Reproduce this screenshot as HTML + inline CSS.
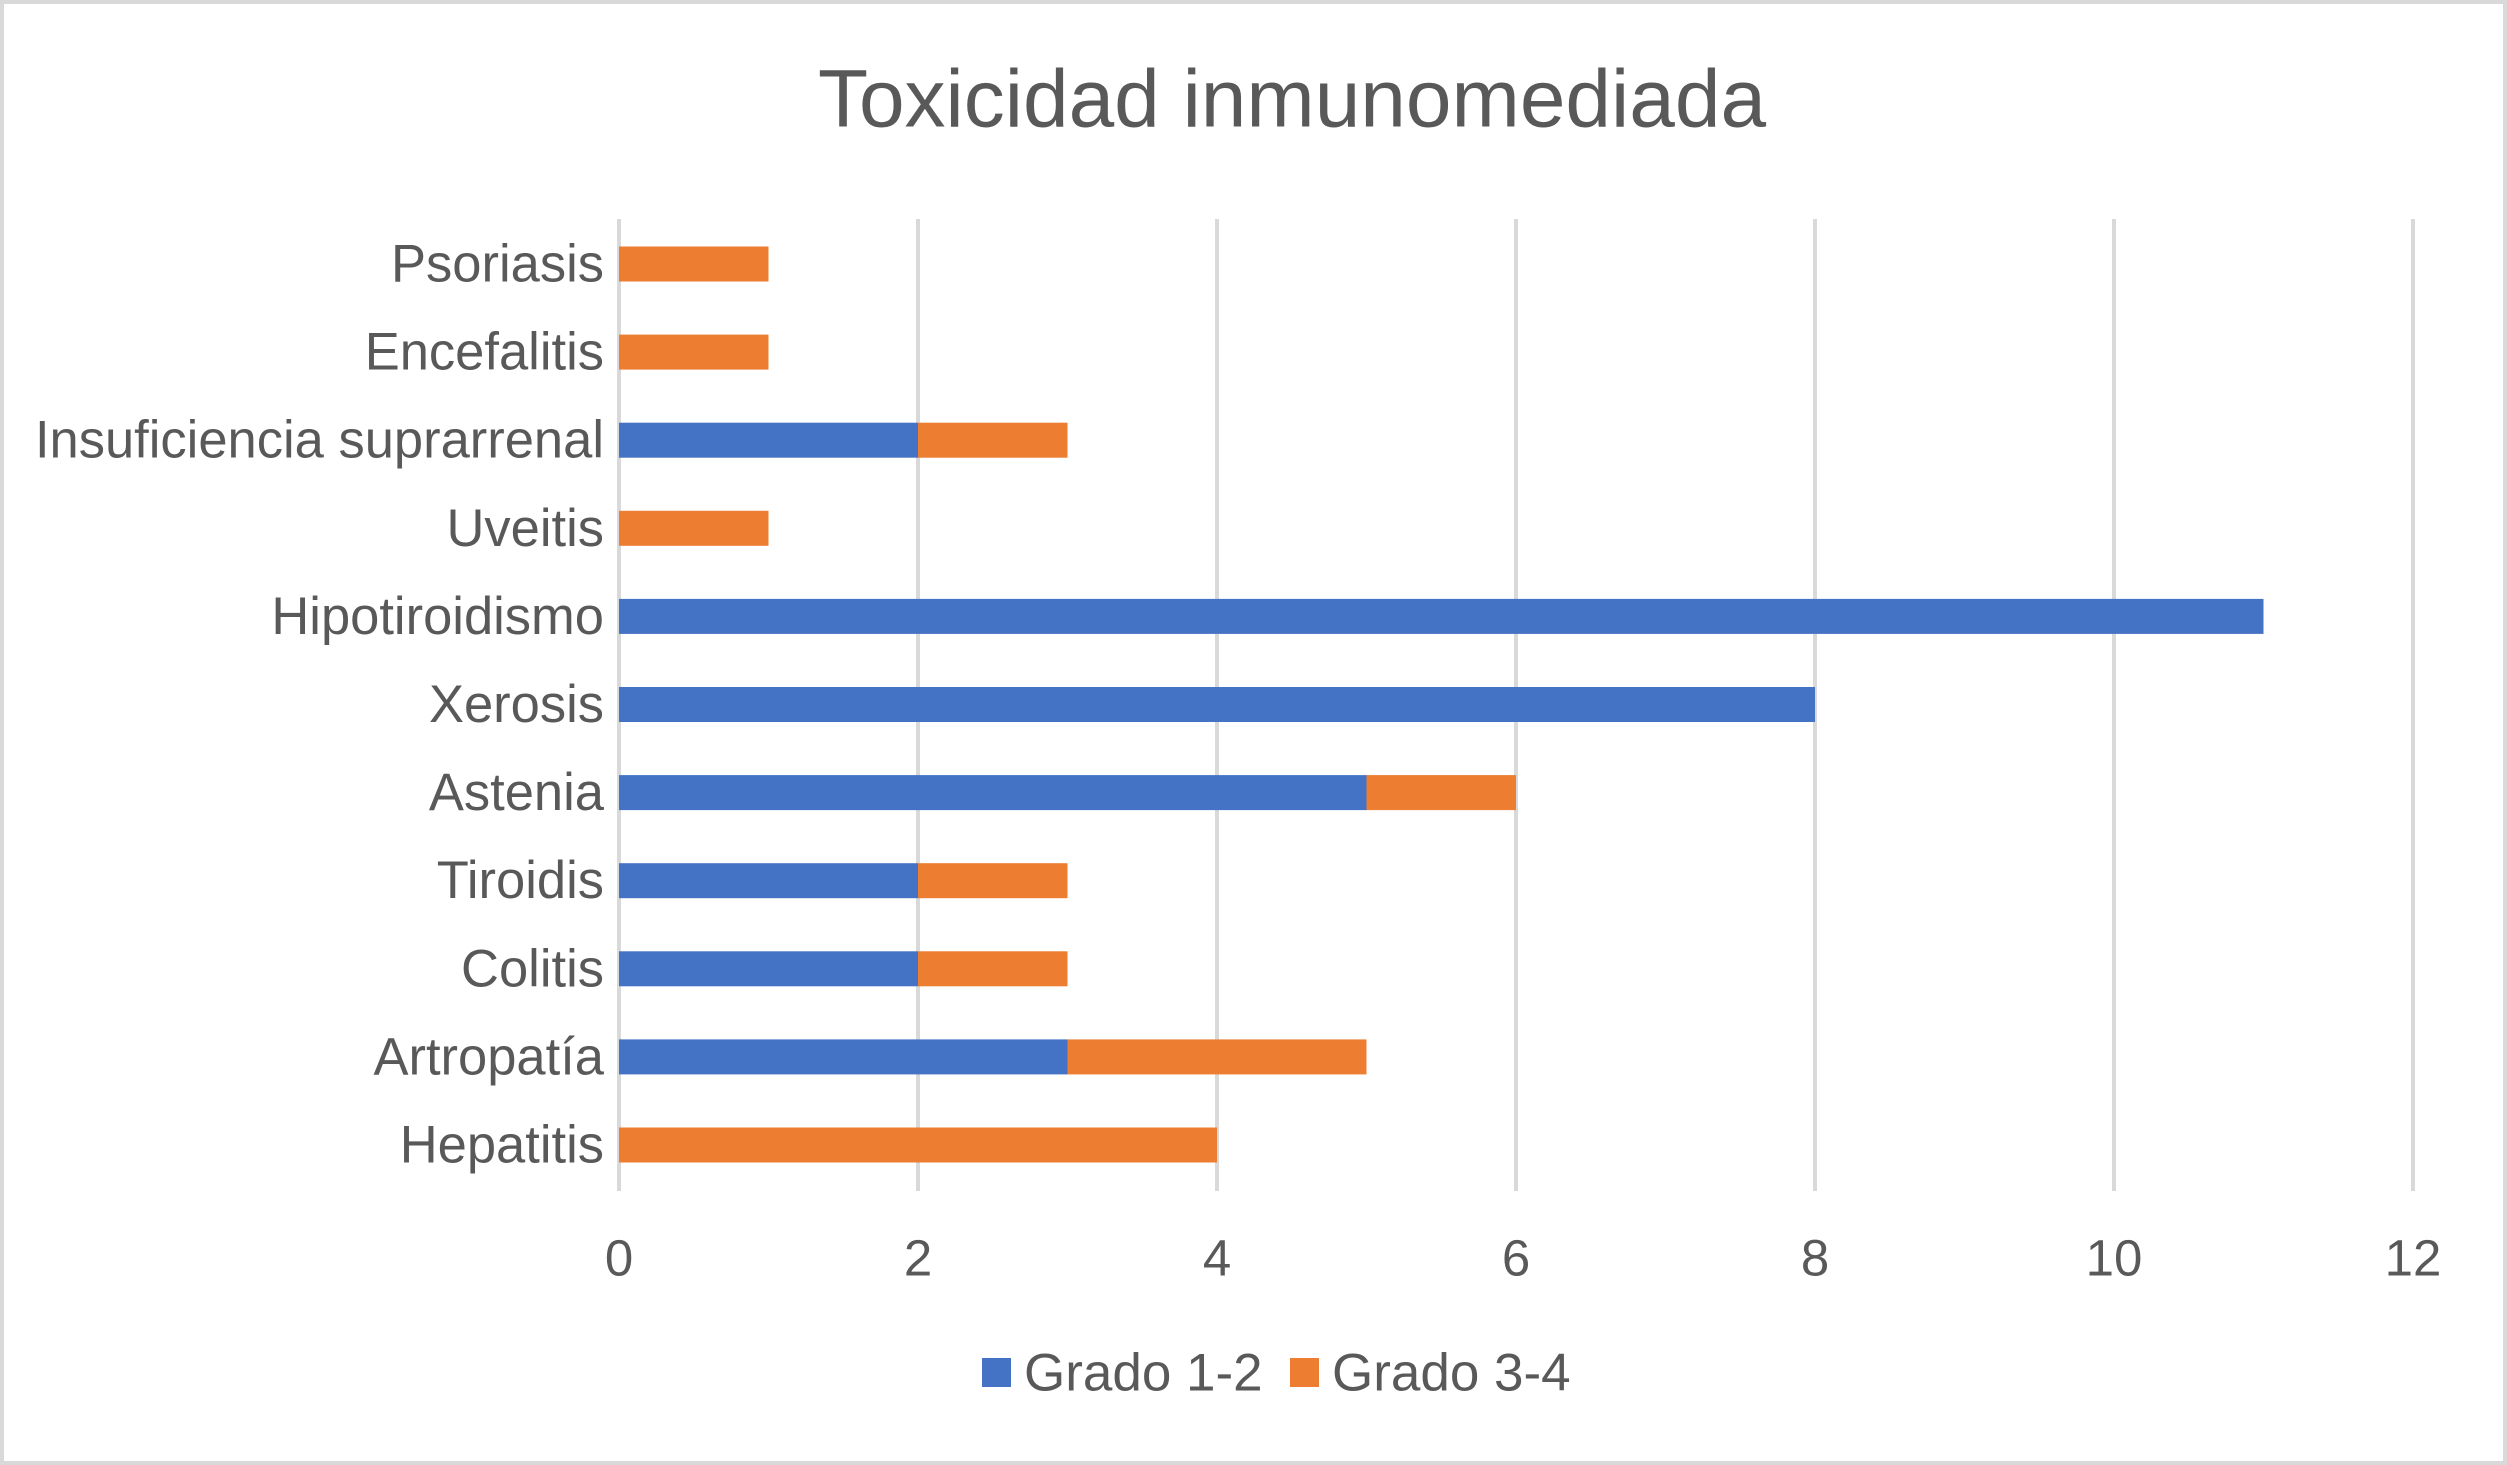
<!DOCTYPE html>
<html><head><meta charset="utf-8"><style>
html,body{margin:0;padding:0;background:#fff;}
svg{display:block;font-family:"Liberation Sans",Arial,sans-serif;}
</style></head><body>
<svg id="chart" width="2507" height="1465" viewBox="0 0 2507 1465" xmlns="http://www.w3.org/2000/svg">
<rect x="2" y="2" width="2503" height="1461" fill="#fff" stroke="#D9D9D9" stroke-width="4"/>
<text x="1292" y="99" font-size="82" fill="#595959" text-anchor="middle" dominant-baseline="central">Toxicidad inmunomediada</text>
<g id="grid"></g><g id="bars"></g><g id="ylabels"></g><g id="xlabels"></g>
<g>
<rect x="982" y="1358" width="29" height="29" fill="#4472C4"/>
<text x="1024" y="1373" font-size="53" fill="#595959" dominant-baseline="central">Grado 1-2</text>
<rect x="1290" y="1358" width="29" height="29" fill="#ED7D31"/>
<text x="1332" y="1373" font-size="53" fill="#595959" dominant-baseline="central">Grado 3-4</text>
</g>
</svg>
<script>
const categories=["Psoriasis","Encefalitis","Insuficiencia suprarrenal","Uveitis","Hipotiroidismo","Xerosis","Astenia","Tiroidis","Colitis","Artropatía","Hepatitis"];
const grado12=[0,0,2,0,11,8,5,2,2,3,0];
const grado34=[1,1,1,1,0,0,1,1,1,2,4];
const xTicks=[0,2,4,6,8,10,12];
const NS="http://www.w3.org/2000/svg";
const x0=619,x1=2413,xMax=12,gTop=219,gBot=1191,yFirst=264,yLast=1145,bh=35;
const xs=v=>x0+(x1-x0)*v/xMax;
const ys=i=>yFirst+(yLast-yFirst)*i/(categories.length-1);
function mk(tag,attrs,parent){const e=document.createElementNS(NS,tag);for(const k in attrs)e.setAttribute(k,attrs[k]);document.getElementById(parent).appendChild(e);return e;}
xTicks.forEach(t=>{
 const l=mk('line',{x1:xs(t),x2:xs(t),y1:gTop,y2:gBot,stroke:'#D9D9D9','stroke-width':4},'grid');
 
 
 const tx=mk('text',{x:xs(t),y:1258,'font-size':51,fill:'#595959','text-anchor':'middle','dominant-baseline':'central'},'xlabels');
 tx.textContent=t;
 
 
});
categories.forEach((c,i)=>{
 const y=ys(i);
 const slug=c.toLowerCase().replace(/[^a-z0-9]+/g,'-');
 if(grado12[i]>0){
  const r=mk('rect',{x:xs(0),y:y-bh/2,width:xs(grado12[i])-xs(0),height:bh,fill:'#4472C4'},'bars');
  
  
 }
 if(grado34[i]>0){
  const r=mk('rect',{x:xs(grado12[i]),y:y-bh/2,width:xs(grado12[i]+grado34[i])-xs(grado12[i]),height:bh,fill:'#ED7D31'},'bars');
  
  
 }
 const t=mk('text',{x:604,y:y,'font-size':52.5,fill:'#595959','text-anchor':'end','dominant-baseline':'central'},'ylabels');
 t.textContent=c;
 
 
});
</script>
</body></html>
